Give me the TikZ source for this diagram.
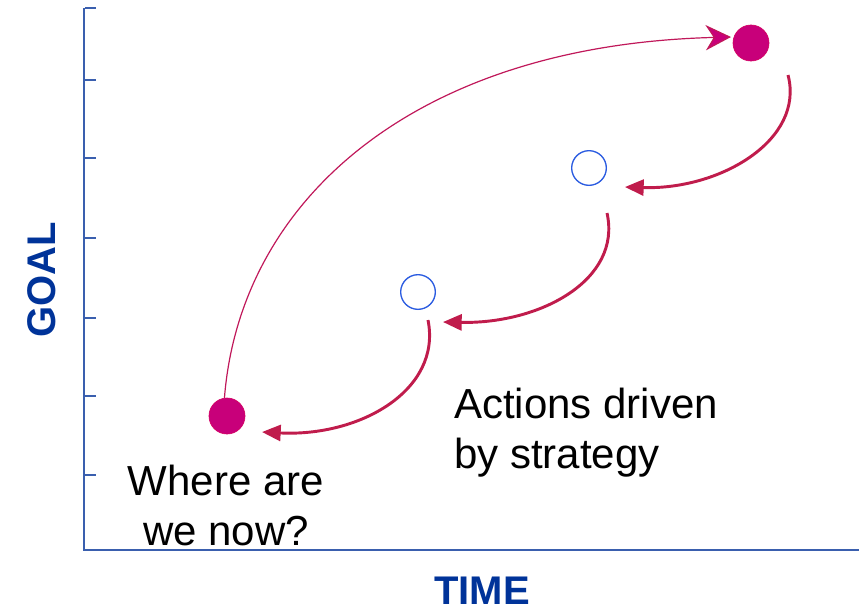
\documentclass[tikz,border=0pt]{standalone}
\usepackage{fontspec}
\setmainfont{Liberation Sans}
\usetikzlibrary{arrows.meta}
\definecolor{axisblue}{HTML}{3A5FAE}
\definecolor{labelblue}{HTML}{003399}
\definecolor{dotmag}{HTML}{C8007A}
\definecolor{arrred}{HTML}{C01C4C}
\definecolor{thinred}{HTML}{C0185A}
\definecolor{ringblue}{HTML}{2A5BE0}
\tikzset{
  axis/.style={draw=axisblue, line width=1.3pt},
  tick/.style={draw=axisblue, line width=1pt},
  fulldot/.style={circle, fill=dotmag, draw=dotmag!80!red, line width=0.5pt, minimum size=27pt, inner sep=0pt},
  ring/.style={circle, draw=ringblue, line width=1pt, minimum size=26pt, inner sep=0pt},
  bigarrow/.style={draw=arrred, line width=2.2pt, -{Stealth[length=14pt, width=12pt, inset=0pt]}},
  thinarrow/.style={draw=thinred, line width=0.9pt, -{Stealth[length=19pt, width=19pt, inset=6pt, fill=dotmag]}},
  axlabel/.style={text=labelblue, font=\fontsize{30}{36}\selectfont\bfseries},
  note/.style={font=\fontsize{31.5}{37.5}\selectfont, text=black, inner sep=0pt}
}
\begin{document}
\begin{tikzpicture}[x=0.75pt,y=-0.75pt]
\useasboundingbox (0,0) rectangle (859,612);
% axes
\coordinate (ytop) at (84,8);
\coordinate (orig) at (84,550);
\coordinate (xend) at (859,550);
\draw[axis] (ytop) -- (orig) -- (xend);
\foreach \y in {8,80,158,238,318,396,475} {
  \coordinate (t1) at (85,\y);
  \coordinate (t2) at (96,\y);
  \draw[tick] (t1) -- (t2);
}
% dots
\node[fulldot] (start) at (227,416) {};
\node[fulldot] (goal) at (751,43) {};
\node[ring] (m2) at (589,168) {};
\node[ring] (m1) at (418,292) {};
% thin arrow
\coordinate (gin) at (731,37);
\draw[thinarrow] (start.98) .. controls (240,200) and (415,45) .. (gin);
% thick arrows
\coordinate (a1s) at (788,75);  \coordinate (a1e) at (625,187);
\coordinate (a2s) at (607,213); \coordinate (a2e) at (443,322);
\coordinate (a3s) at (428,320); \coordinate (a3e) at (262,432);
\draw[bigarrow] (a1s) .. controls (805,140) and (720,190) .. (a1e);
\draw[bigarrow] (a2s) .. controls (622,280) and (540,324) .. (a2e);
\draw[bigarrow] (a3s) .. controls (442,390) and (360,437) .. (a3e);
% texts
\node[note, align=center] (where) at (226,505) {Where are\\we now?};
\node[note, align=left, anchor=north west] (act) at (454,388) {Actions driven\\by strategy};
\node[axlabel, rotate=90] (ylab) at (42,280) {GOAL};
\node[axlabel, anchor=base, inner sep=0pt] (xlab) at (482,604) {TIME};
\end{tikzpicture}
\end{document}
